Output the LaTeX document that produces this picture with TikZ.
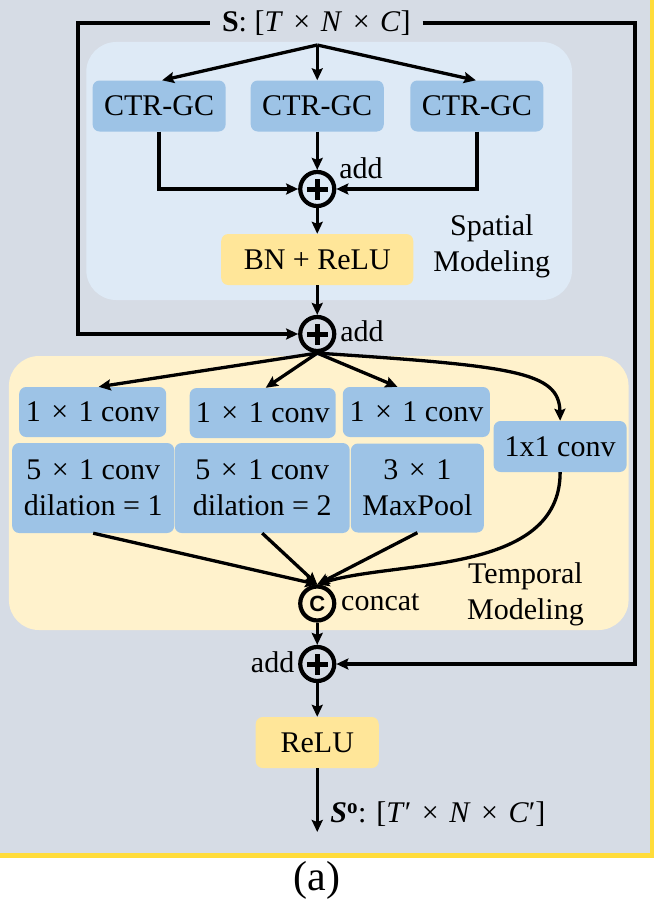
\documentclass[tikz,border=0pt]{standalone}
\usepackage{fontspec}
\setmainfont{Liberation Serif}
\newfontfamily\sansbold{Liberation Sans}
\usetikzlibrary{arrows.meta,calc}
\definecolor{bgc}{HTML}{D6DCE5}
\definecolor{spc}{HTML}{DEEAF6}
\definecolor{tpc}{HTML}{FFF2CC}
\definecolor{bluec}{HTML}{9DC3E6}
\definecolor{yelc}{HTML}{FFE699}
\definecolor{framec}{HTML}{FFDC3A}
\newcommand{\tms}{\hspace{0.35em}×\hspace{0.35em}}
\tikzset{
  arr/.style={line width=3.3pt,-{Stealth[length=12pt,width=11pt,inset=2pt]}},
  bluebox/.style={rectangle,rounded corners=7pt,fill=bluec,inner sep=0pt,align=center},
  yelbox/.style={rectangle,rounded corners=7pt,fill=yelc,inner sep=0pt,align=center},
  addop/.style={circle,draw,line width=4.2pt,minimum size=34pt,inner sep=0pt,
    path picture={\draw[line width=5pt]
      ([xshift=-10.5pt]path picture bounding box.center) -- ([xshift=10.5pt]path picture bounding box.center)
      ([yshift=-10.5pt]path picture bounding box.center) -- ([yshift=10.5pt]path picture bounding box.center);}},
  catop/.style={circle,draw,line width=4.2pt,minimum size=34pt,inner sep=0pt,font=\sansbold\bfseries\fontsize{22}{22}\selectfont},
  lbl/.style={inner sep=0pt}
}
\begin{document}
\begin{tikzpicture}[x=0.9914pt,y=-1pt,font=\fontsize{30}{36}\selectfont]
\useasboundingbox (0,0) rectangle (665.7,899);
% background
\fill[bgc] (0,0) rectangle (656,853);
\draw[framec,line width=4.5pt] (0,855.5) -- (657.8,855.5) -- (657.8,0);
% group boxes
\fill[spc,rounded corners=30pt] (87,42) rectangle (577,300);
\fill[tpc,rounded corners=30pt] (9,356) rectangle (634,630);

% top label
\node[inner xsep=12pt,inner ysep=0pt] (S) at (319,23) {\textbf{S}: [\textit{T}\tms\textit{N}\tms\textit{C}]};
\coordinate (sp1) at (320,45);

% spatial modeling
\node[bluebox,minimum width=133pt,minimum height=51pt] (ctr1) at (160.5,106) {CTR-GC};
\node[bluebox,minimum width=133pt,minimum height=51pt] (ctr2) at (320,106) {CTR-GC};
\node[bluebox,minimum width=133pt,minimum height=51pt] (ctr3) at (481,106) {CTR-GC};
\node[addop] (add1) at (320,189) {};
\node[lbl,anchor=west] (add1l) at (342,168) {add};
\node[yelbox,minimum width=192pt,minimum height=51pt] (bn) at (320,259.5) {BN + ReLU};
\node[lbl,align=center] (spl) at (496,246) {Spatial\\Modeling};
\node[addop] (add2) at (320,334) {};
\node[lbl,anchor=west] (add2l) at (343,331) {add};

\draw[arr] (sp1) -- ([xshift=3pt]ctr1.north);
\draw[arr] (sp1) -- (ctr2.north);
\draw[arr] (sp1) -- ([xshift=-1pt]ctr3.north);
\draw[arr] (ctr2.south) -- (add1.north);
\draw[arr] (ctr1.south) |- (add1.west);
\draw[arr] (ctr3.south) |- (add1.east);
\draw[arr] (add1.south) -- (bn.north);
\draw[arr] (bn.south) -- (add2.north);
\coordinate (lc) at (78.6,334);
\draw[arr] (S.west) -| (lc) -- (add2.west);

% temporal modeling
\node[bluebox,minimum width=147pt,minimum height=50pt] (b1) at (93.5,412) {1\tms1 conv};
\node[bluebox,minimum width=146pt,minimum height=50pt] (b2) at (265,413) {1\tms1 conv};
\node[bluebox,minimum width=147pt,minimum height=50pt] (b3) at (420,412) {1\tms1 conv};
\node[bluebox,minimum width=133pt,minimum height=51pt] (c4) at (565,446.5) {1x1 conv};
\node[bluebox,minimum width=162pt,minimum height=90pt] (b4) at (94,488) {5\tms1 conv\\dilation = 1};
\node[bluebox,minimum width=175pt,minimum height=90pt] (b5) at (264.5,488) {5\tms1 conv\\dilation = 2};
\node[bluebox,minimum width=133pt,minimum height=89pt] (b6) at (421,488) {3\tms1\\MaxPool};
\node[catop] (cc) at (320,603.5) {C};
\node[lbl,anchor=west] (ccl) at (344,602) {concat};
\node[lbl,align=center] (tpl) at (530,594) {Temporal\\Modeling};

\draw[arr] (add2.south) -- ([xshift=6pt]b1.north);
\draw[arr] (add2.south) -- ([xshift=3pt]b2.north);
\draw[arr] (add2.south) -- ([xshift=-19pt]b3.north);
\draw[arr] (add2.south) .. controls (520,366) and (564,372) .. (c4.north);
\draw[arr] (b4.south) -- (cc.north);
\draw[arr] (b5.south) -- (cc.north);
\draw[arr] (b6.south) -- (cc.north);
\draw[arr] (c4.south) .. controls (565,575) and (400,560) .. (cc.north);

% output
\node[addop] (add3) at (320,664) {};
\node[lbl,anchor=east] (add3l) at (297,662) {add};
\coordinate (rc) at (640.5,664);
\draw[arr] (S.east) -| (rc) -- (add3.east);
\draw[arr] (cc.south) -- (add3.north);
\node[yelbox,minimum width=123pt,minimum height=51pt] (relu) at (320,742.5) {ReLU};
\draw[arr] (add3.south) -- (relu.north);
\coordinate (out) at (320,832);
\draw[arr] (relu.south) -- (out);
\node[lbl,anchor=west] (outl) at (333,814) {\textbf{\textit{S}}\textsuperscript{\textbf{o}}: [\textit{T}′\tms\textit{N}\tms\textit{C}′]};
\node[lbl,font=\fontsize{42}{42}\selectfont] (cap) at (320,880) {(a)};
\end{tikzpicture}
\end{document}
